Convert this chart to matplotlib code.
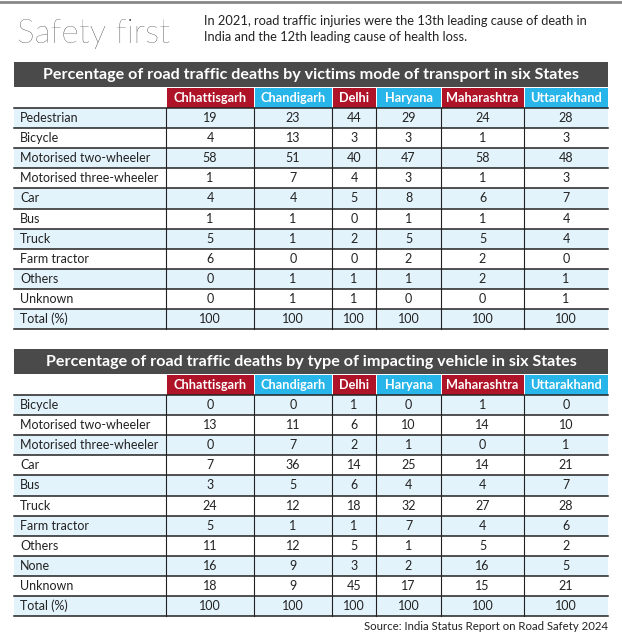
import matplotlib.pyplot as plt
from matplotlib.patches import Rectangle

# ---------- DATA ---------- #
states = ["Chhattisgarh", "Chandigarh", "Delhi", "Haryana", "Maharashtra", "Uttarakhand"]

victim_modes = ["Pedestrian", "Bicycle", "Motorised two-wheeler", "Motorised three-wheeler",
                "Car", "Bus", "Truck", "Farm tractor", "Others", "Unknown", "Total (%)"]
victim_values = [
    [19, 23, 44, 29, 24, 28],
    [4, 13, 3, 3, 1, 3],
    [58, 51, 40, 47, 58, 48],
    [1, 7, 4, 3, 1, 3],
    [4, 4, 5, 8, 6, 7],
    [1, 1, 0, 1, 1, 4],
    [5, 1, 2, 5, 5, 4],
    [6, 0, 0, 2, 2, 0],
    [0, 1, 1, 1, 2, 1],
    [0, 1, 1, 0, 0, 1],
    [100, 100, 100, 100, 100, 100],
]

impact_types = ["Bicycle", "Motorised two-wheeler", "Motorised three-wheeler", "Car", "Bus",
                "Truck", "Farm tractor", "Others", "None", "Unknown", "Total (%)"]
impact_values = [
    [0, 0, 1, 0, 1, 0],
    [13, 11, 6, 10, 14, 10],
    [0, 7, 2, 1, 0, 1],
    [7, 36, 14, 25, 14, 21],
    [3, 5, 6, 4, 4, 7],
    [24, 12, 18, 32, 27, 28],
    [5, 1, 1, 7, 4, 6],
    [11, 12, 5, 1, 5, 2],
    [16, 9, 3, 2, 16, 5],
    [18, 9, 45, 17, 15, 21],
    [100, 100, 100, 100, 100, 100],
]

# ---------- STYLE ---------- #
RED = "#ae1328"
BLUE = "#27b5ea"
DARK = "#4a4a4a"
ROWBLUE = "#e3f3fb"
TXT = "#222222"
FONT = "Lato"

col_edges = [14, 166, 254, 332, 376, 441, 524, 608]
ROW_H = 20.1

fig = plt.figure(figsize=(6.22, 6.42), dpi=100)
ax = fig.add_axes([0, 0, 1, 1])
ax.set_xlim(0, 622)
ax.set_ylim(642, 0)
ax.axis("off")

# top rule
ax.plot([0, 622], [1.5, 1.5], color="#888888", lw=2)

ax.text(17, 34, "Safety first", fontsize=24, fontfamily=FONT, fontweight="light",
        color="#333333", va="center", ha="left")
ax.text(204, 29, "In 2021, road traffic injuries were the 13th leading cause of death in\n"
        "India and the 12th leading cause of health loss.",
        fontsize=9.3, fontfamily=FONT, color=TXT, va="center", ha="left", linespacing=1.45)


def draw_table(top, title, rows, values):
    left, right = col_edges[0], col_edges[-1]
    # title bar
    ax.add_patch(Rectangle((left, top), right - left, 25, color=DARK, lw=0))
    ax.text((left + right) / 2, top + 13, title, fontsize=11.6, fontfamily=FONT,
            fontweight="bold", color="white", ha="center", va="center")
    # state headers
    hy = top + 26
    for i, s in enumerate(states):
        x0, x1 = col_edges[i + 1], col_edges[i + 2]
        ax.add_patch(Rectangle((x0 + 0.5, hy), x1 - x0 - 1, 19.5,
                               color=RED if i % 2 == 0 else BLUE, lw=0))
        ax.text((x0 + x1) / 2, hy + 10, s, fontsize=9.2, fontfamily=FONT,
                fontweight="bold", color="white", ha="center", va="center")
    # body
    by = hy + 20
    for r, (name, vals) in enumerate(zip(rows, values)):
        y0 = by + r * ROW_H
        if r % 2 == 0:
            ax.add_patch(Rectangle((left, y0), right - left, ROW_H, color=ROWBLUE, lw=0))
        ax.text(left + 6, y0 + ROW_H / 2, name, fontsize=9, fontfamily=FONT,
                color=TXT, ha="left", va="center")
        for i, v in enumerate(vals):
            x0, x1 = col_edges[i + 1], col_edges[i + 2]
            ax.text((x0 + x1) / 2, y0 + ROW_H / 2, str(v), fontsize=9, fontfamily=FONT,
                    color=TXT, ha="center", va="center")
        ax.plot([left, right], [y0, y0], color="#222222", lw=1.1)
    bottom = by + len(rows) * ROW_H
    ax.plot([left, right], [bottom, bottom], color="#222222", lw=1.1)
    for x in col_edges[1:-1]:
        ax.plot([x, x], [by, bottom], color="#222222", lw=0.8)


draw_table(62, "Percentage of road traffic deaths by victims mode of transport in six States",
           victim_modes, victim_values)
draw_table(349, "Percentage of road traffic deaths by type of impacting vehicle in six States",
           impact_types, impact_values)

ax.text(608, 627, "Source: India Status Report on Road Safety 2024", fontsize=8.2,
        fontfamily=FONT, color=TXT, ha="right", va="center")

fig.savefig("out.png", dpi=100)
